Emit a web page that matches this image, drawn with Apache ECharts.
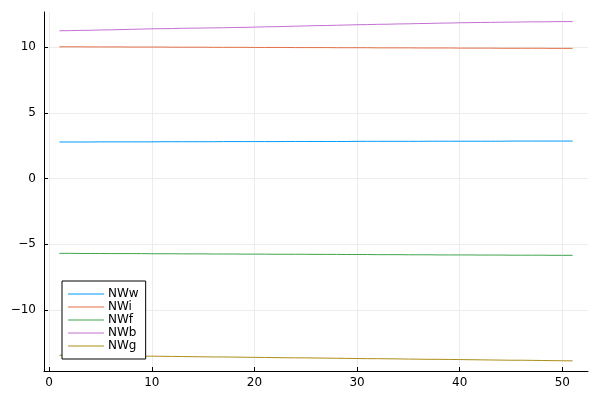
<!DOCTYPE html>
<html>
<head>
<meta charset="utf-8">
<script src="https://cdn.jsdelivr.net/npm/echarts@6/dist/echarts.min.js"></script>
<style>html,body{margin:0;padding:0;background:#fff}#c{width:600px;height:400px}</style>
</head>
<body>
<div id="c"></div>
<script>
var xs = [1,2,3,4,5,6,7,8,9,10,11,12,13,14,15,16,17,18,19,20,21,22,23,24,25,26,27,28,29,30,31,32,33,34,35,36,37,38,39,40,41,42,43,44,45,46,47,48,49,50,51];
var seriesNames = ['NWw','NWi','NWf','NWb','NWg'];
var NWw = [2.78,2.78,2.78,2.78,2.79,2.79,2.79,2.79,2.79,2.79,
 2.80,2.80,2.80,2.80,2.80,2.80,2.81,2.81,2.81,2.81,
 2.81,2.81,2.82,2.82,2.82,2.82,2.82,2.82,2.82,2.83,
 2.83,2.83,2.83,2.83,2.83,2.83,2.84,2.84,2.84,2.84,
 2.84,2.84,2.84,2.84,2.85,2.85,2.85,2.85,2.85,2.85,
 2.85];
var NWi = [10.03,10.03,10.03,10.02,10.02,10.02,10.02,10.01,10.01,10.01,
 10.01,10.00,10.00,10.00,10.00,9.99,9.99,9.99,9.99,9.98,
 9.98,9.98,9.98,9.97,9.97,9.97,9.97,9.96,9.96,9.96,
 9.96,9.95,9.95,9.95,9.95,9.94,9.94,9.94,9.94,9.93,
 9.93,9.93,9.93,9.92,9.92,9.92,9.92,9.92,9.91,9.91,
 9.91];
var NWf = [-5.70,-5.70,-5.71,-5.71,-5.71,-5.72,-5.72,-5.72,-5.72,-5.73,
 -5.73,-5.73,-5.74,-5.74,-5.74,-5.75,-5.75,-5.75,-5.76,-5.76,
 -5.76,-5.77,-5.77,-5.77,-5.77,-5.78,-5.78,-5.78,-5.79,-5.79,
 -5.79,-5.80,-5.80,-5.80,-5.81,-5.81,-5.81,-5.82,-5.82,-5.82,
 -5.82,-5.83,-5.83,-5.83,-5.84,-5.84,-5.84,-5.84,-5.85,-5.85,
 -5.85];
var NWb = [11.25,11.26,11.28,11.29,11.31,11.32,11.34,11.36,11.38,11.40,
 11.41,11.42,11.44,11.45,11.46,11.47,11.48,11.50,11.51,11.53,
 11.55,11.56,11.58,11.60,11.62,11.64,11.65,11.67,11.69,11.71,
 11.72,11.74,11.75,11.77,11.78,11.80,11.81,11.83,11.84,11.86,
 11.87,11.88,11.89,11.90,11.91,11.92,11.93,11.93,11.94,11.95,
 11.95];
var NWg = [-13.46,-13.47,-13.48,-13.48,-13.49,-13.50,-13.51,-13.52,-13.53,-13.53,
 -13.54,-13.55,-13.56,-13.57,-13.58,-13.59,-13.59,-13.60,-13.61,-13.62,
 -13.63,-13.64,-13.65,-13.66,-13.66,-13.67,-13.68,-13.69,-13.70,-13.71,
 -13.72,-13.72,-13.73,-13.74,-13.75,-13.76,-13.77,-13.77,-13.78,-13.79,
 -13.80,-13.81,-13.82,-13.83,-13.84,-13.84,-13.85,-13.86,-13.87,-13.88,
 -13.89];
var xTicks = [0,10,20,30,40,50];
var yTicks = [-10,-5,0,5,10];
var colors = ['#009AFA','#E36F47','#3EA44E','#C371D2','#AC8E18'];

var allY = [NWw,NWi,NWf,NWb,NWg];
var chart = echarts.init(document.getElementById('c'), null, {renderer:'canvas'});
function fmt(v){ return String(v).replace('-', '\u2212'); }
var font = 'DejaVu Sans';
var lineIcon = 'path://M0,0 L36,0 L36,1.2 L0,1.2 Z';
var option = {
  animation: false,
  backgroundColor: '#fff',
  color: colors,
  grid: {left:44, right:12, top:12, bottom:29, containLabel:false},
  xAxis: {
    type:'value', min:-0.5, max:52.5,
    axisLine:{show:true, onZero:false, lineStyle:{color:'#000', width:1}},
    axisTick:{show:true, inside:true, length:4, customValues:xTicks, lineStyle:{color:'#000'}},
    axisLabel:{customValues:xTicks, formatter:fmt, color:'#000', fontSize:12, fontFamily:font, margin:6},
    splitLine:{show:true, lineStyle:{color:'#ececec', width:1}}
  },
  yAxis: {
    type:'value', min:-14.66, max:12.68,
    axisLine:{show:true, onZero:false, lineStyle:{color:'#000', width:1}},
    axisTick:{show:true, inside:true, length:4, customValues:yTicks, lineStyle:{color:'#000'}},
    axisLabel:{customValues:yTicks, formatter:fmt, color:'#000', fontSize:12, fontFamily:font, margin:8},
    splitLine:{show:true, lineStyle:{color:'#ececec', width:1}}
  },
  legend: {
    left:62, top:281, orient:'vertical',
    backgroundColor:'#fff', borderColor:'#000', borderWidth:1, borderRadius:0,
    padding:[7,7,7,6], itemWidth:36, itemHeight:12, itemGap:1,
    textStyle:{fontSize:12, lineHeight:12, fontFamily:font, color:'#000', padding:[0,0,0,-1]},
    data: seriesNames.map(function(n){ return {name:n, icon:lineIcon}; })
  },
  series: seriesNames.map(function(n,i){
    return {
      name:n, type:'line', symbol:'none', showSymbol:false,
      lineStyle:{width:1, color:colors[i]},
      itemStyle:{color:colors[i]},
      data: xs.map(function(x,j){ return [x, allY[i][j]]; })
    };
  })
};
chart.setOption(option);
</script>
</body>
</html>
